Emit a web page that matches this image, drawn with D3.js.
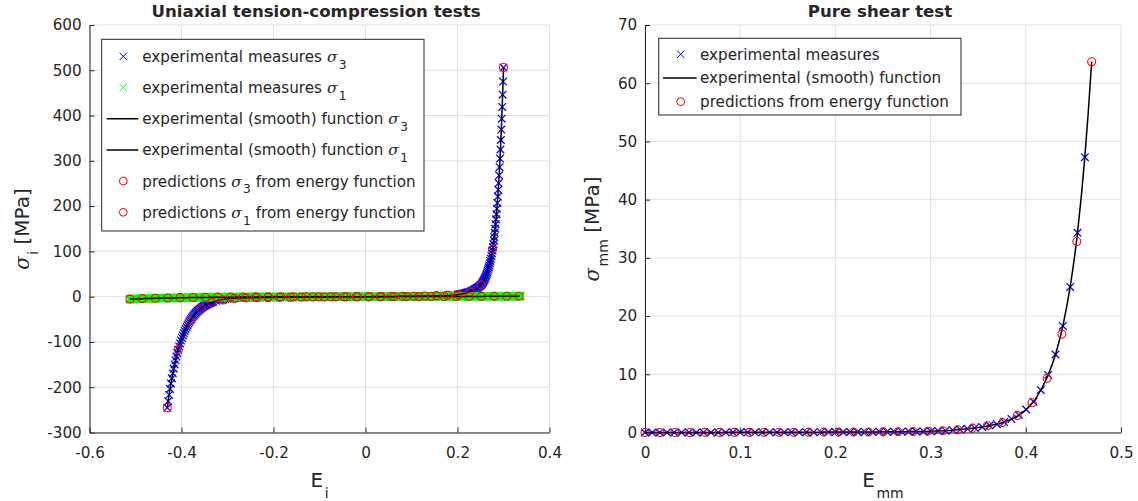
<!DOCTYPE html>
<html>
<head>
<meta charset="utf-8">
<script src="https://cdn.jsdelivr.net/npm/d3@7"></script>
<style>
  body { margin: 0; background: #fff; }
  svg text { font-family: "DejaVu Sans", sans-serif; fill: #262626; }
</style>
</head>
<body>
<div id="chart"></div>
<script>
// ---- uniaxial test: sigma_3 experimental (compression branch, middle, tension branch)
var uniE3comp = [-0.431,-0.429,-0.427,-0.425,-0.423,-0.421,-0.419,-0.417,-0.415,-0.413,-0.411,-0.409,-0.407,-0.405,-0.403,-0.401,-0.399,-0.397,-0.395,-0.393,-0.391,-0.389,-0.387,-0.385,-0.383,-0.381,-0.379,-0.377,-0.375,-0.373,-0.371,-0.369,-0.367,-0.365,-0.363,-0.361,-0.359,-0.357,-0.355,-0.353,-0.351,-0.349,-0.347,-0.345,-0.343,-0.341,-0.339,-0.337,-0.335,-0.333,-0.331];
var uniS3comp = [-245.5,-230.8,-216.9,-203.9,-191.7,-180.2,-169.4,-159.2,-149.6,-140.7,-132.2,-124.3,-116.8,-109.8,-103.3,-97.0,-91.2,-85.8,-80.6,-75.8,-71.2,-67.0,-62.9,-59.2,-55.6,-52.3,-49.1,-46.2,-43.4,-40.8,-38.4,-36.1,-33.9,-31.9,-30.0,-28.2,-26.5,-24.9,-23.4,-22.0,-20.7,-19.4,-18.3,-17.2,-16.1,-15.2,-14.3,-13.4,-12.6,-11.8,-11.1];
var uniE3mid = [-0.325,-0.320,-0.315,-0.310,-0.305,-0.300,-0.295,-0.290,-0.285,-0.280,-0.270,-0.260,-0.250,-0.240,-0.230,-0.220,-0.210,-0.200,-0.190,-0.180,-0.170,-0.160,-0.150,-0.140,-0.130,-0.120,-0.110,-0.100,-0.090,-0.080,-0.070,-0.060,-0.050,-0.040,-0.030,-0.020,-0.010,0,0.010,0.020,0.030,0.040,0.050,0.060,0.070,0.080,0.090,0.100,0.110,0.120,0.130,0.140,0.150,0.160,0.170,0.180,0.190];
var uniS3mid = [-9.3,-8.0,-6.9,-6.0,-5.2,-4.6,-4.1,-3.7,-3.4,-3.1,-2.8,-2.6,-2.4,-2.2,-2.05,-1.9,-1.75,-1.6,-1.5,-1.4,-1.3,-1.2,-1.1,-1.0,-0.9,-0.82,-0.74,-0.66,-0.58,-0.5,-0.43,-0.36,-0.29,-0.23,-0.17,-0.11,-0.05,0,0.08,0.16,0.25,0.34,0.43,0.53,0.63,0.74,0.86,0.99,1.13,1.28,1.45,1.64,1.86,2.1,2.4,2.8,3.4];
var uniE3tens = [0.2000,0.2021,0.2045,0.2062,0.2084,0.2104,0.2123,0.2141,0.2161,0.2181,0.2199,0.2220,0.2239,0.2260,0.2285,0.2303,0.2321,0.2337,0.2354,0.2372,0.2389,0.2406,0.2424,0.2438,0.2458,0.2476,0.2494,0.2510,0.2530,0.2542,0.2554,0.2564,0.2575,0.2586,0.2598,0.2610,0.2622,0.2633,0.2645,0.2656,0.2668,0.2679,0.2690,0.2702,0.2713,0.2724,0.2737,0.2748,0.2759,0.2770,0.2780,0.2790,0.2799,0.2809,0.2818,0.2828,0.2838,0.2847,0.2857,0.2866,0.2876,0.2886,0.2895,0.2905,0.2915,0.2924,0.2934,0.2943,0.2953,0.2962,0.2972,0.2981,0.2991,0.3000];
var uniS3tens = [4.4,4.7,5.1,5.4,5.8,6.2,6.6,7,7.5,8,8.5,9.1,9.7,10.4,11.4,12.2,13,13.8,14.7,15.7,16.7,17.8,19,20,21.5,23,24.5,26,28,30,32,34,36,38.5,41,44,47,50,53.5,57,61,65,69,74,79,84,90,96,102,109,116,124,132,141,150,160,171,182,194,207,221,236,251,268,286,305,325,346,369,393,419,446,475,506];

// ---- uniaxial test: sigma_1 experimental
var uniE1 = [-0.512,-0.504,-0.496,-0.488,-0.480,-0.472,-0.464,-0.456,-0.448,-0.440,
  -0.432,-0.424,-0.416,-0.408,-0.400,-0.392,-0.384,-0.376,-0.368,-0.360,
  -0.352,-0.344,-0.336,-0.328,-0.320,-0.312,-0.304,-0.296,-0.288,-0.280,
  -0.272,-0.264,-0.256,-0.248,-0.240,-0.232,-0.224,-0.216,-0.208,-0.200,
  -0.192,-0.184,-0.176,-0.168,-0.160,-0.152,-0.144,-0.136,-0.128,-0.120,
  -0.112,-0.104,-0.096,-0.088,-0.080,-0.072,-0.064,-0.056,-0.048,-0.040,
  -0.032,-0.024,-0.016,-0.008,0.000,0.008,0.016,0.024,0.032,0.040,
  0.048,0.056,0.064,0.072,0.080,0.088,0.096,0.104,0.112,0.120,
  0.128,0.136,0.144,0.152,0.160,0.168,0.176,0.184,0.192,0.200,
  0.208,0.216,0.224,0.232,0.240,0.248,0.256,0.264,0.272,0.280,
  0.288,0.296,0.304,0.312,0.320,0.328,0.336];
var uniS1 = [-5.4,-5.1,-4.8,-4.5,-4.3,-4.0,-3.8,-3.6,-3.4,-3.2,
  -3.0,-2.85,-2.7,-2.55,-2.4,-2.25,-2.1,-2.0,-1.9,-1.8,
  -1.7,-1.6,-1.5,-1.42,-1.34,-1.26,-1.18,-1.1,-1.03,-0.96,
  -0.9,-0.84,-0.78,-0.73,-0.68,-0.63,-0.58,-0.54,-0.5,-0.46,
  -0.42,-0.38,-0.35,-0.32,-0.29,-0.26,-0.23,-0.21,-0.19,-0.17,
  -0.15,-0.13,-0.11,-0.1,-0.08,-0.07,-0.06,-0.05,-0.04,-0.03,
  -0.02,-0.015,-0.01,-0.005,0,0.01,0.02,0.03,0.04,0.05,
  0.06,0.07,0.08,0.1,0.12,0.14,0.16,0.18,0.2,0.22,
  0.24,0.26,0.28,0.3,0.32,0.34,0.36,0.38,0.4,0.42,
  0.45,0.48,0.51,0.54,0.57,0.6,0.63,0.66,0.69,0.72,
  0.75,0.78,0.81,0.84,0.87,0.9,0.93];

// ---- uniaxial test: predictions from energy function
var predE3 = [-0.431,-0.407,-0.382,-0.358,-0.334,-0.309,-0.285,-0.260,-0.236,-0.212,-0.187,-0.163,-0.139,-0.114,-0.090,-0.065,-0.041,-0.017,0.008,0.032,0.056,0.081,0.105,0.129,0.154,0.178,0.202,0.227,0.251,0.276,0.300];
var predS3 = [-245.5,-117,-54.5,-26,-13.5,-7.5,-4.0,-2.6,-2.1,-1.8,-1.5,-1.2,-1.0,-0.8,-0.6,-0.45,-0.3,-0.1,0.05,0.2,0.4,0.6,1.0,1.5,2.2,3.1,4.6,10.6,26,105,506];
var predE1 = [-0.512,-0.485,-0.457,-0.430,-0.403,-0.375,-0.348,-0.321,-0.293,-0.266,-0.239,-0.211,-0.184,-0.157,-0.129,-0.102,-0.075,-0.047,-0.020,0.007,0.034,0.062,0.089,0.116,0.143,0.171,0.198,0.225,0.252,0.280,0.307,0.334];
var predS1 = [-5.4,-4.3,-3.5,-2.8,-2.2,-1.8,-1.4,-1.1,-0.9,-0.7,-0.55,-0.4,-0.3,-0.2,-0.15,-0.1,-0.06,-0.03,-0.01,0.01,0.04,0.08,0.12,0.17,0.23,0.3,0.38,0.47,0.57,0.68,0.8,0.93];

// ---- pure shear test
var shearE = [0,0.0077,0.0154,0.0231,0.0308,0.0385,0.0462,0.0539,0.0616,0.0693,0.077,0.0847,0.0924,0.1001,0.1078,0.1155,0.1232,0.1309,0.1386,0.1463,0.154,0.1617,0.1694,0.1771,0.1848,0.1925,0.2002,0.2079,0.2156,0.2233,0.231,0.2387,0.2464,0.2541,0.2618,0.2695,0.2772,0.2849,0.2926,0.3003,0.308,0.3157,0.3234,0.3311,0.3388,0.3465,0.3542,0.3619,0.3696,0.3773,0.385,0.3927,0.4004,0.4081,0.4158,0.4235,0.4312,0.4389,0.4466,0.4543,0.462];
var shearS = [0,0.002,0.004,0.006,0.008,0.01,0.012,0.014,0.016,0.018,
  0.02,0.022,0.025,0.027,0.03,0.033,0.036,0.039,0.042,0.045,
  0.048,0.052,0.056,0.06,0.064,0.068,0.073,0.078,0.083,0.089,
  0.095,0.102,0.11,0.118,0.13,0.14,0.155,0.17,0.18,0.21,
  0.26,0.32,0.4,0.5,0.63,0.78,0.95,1.2,1.4,1.8,
  2.3,3.0,3.95,5.3,7.3,9.9,13.4,18.3,25.0,34.3,47.3];
var shearFitTailE = [0.4655, 0.4692];
var shearFitTailS = [54.8, 63.7];
var shearPredE = [0,0.0156,0.0313,0.0469,0.0626,0.0782,0.0938,0.1095,0.1251,0.1408,0.1564,0.172,0.1877,0.2033,0.219,0.2346,0.2502,0.2659,0.2815,0.2972,0.3128,0.3284,0.3441,0.3597,0.3754,0.391,0.4066,0.4223,0.4379,0.4536,0.4692];
var shearPredS = [0,0.004,0.008,0.012,0.016,0.02,0.025,0.03,0.036,0.042,0.048,0.056,0.064,0.073,0.083,0.095,0.11,0.13,0.16,0.21,0.3,0.46,0.75,1.15,1.7,2.9,5.1,9.3,16.9,32.8,63.7];

// ---- ticks and labels
var leftXTicks = [-0.6,-0.4,-0.2,0,0.2,0.4];
var leftXLabels = ["-0.6","-0.4","-0.2","0","0.2","0.4"];
var leftYTicks = [-300,-200,-100,0,100,200,300,400,500,600];
var leftYLabels = ["-300","-200","-100","0","100","200","300","400","500","600"];
var rightXTicks = [0,0.1,0.2,0.3,0.4,0.5];
var rightXLabels = ["0","0.1","0.2","0.3","0.4","0.5"];
var rightYTicks = [0,10,20,30,40,50,60,70];
var rightYLabels = ["0","10","20","30","40","50","60","70"];

var leftLegend = ["experimental measures σ_3", "experimental measures σ_1",
  "experimental (smooth) function σ_3", "experimental (smooth) function σ_1",
  "predictions σ_3 from energy function", "predictions σ_1 from energy function"];
var leftLegendKind = ["xb", "xg", "line", "line", "o", "o"];
var rightLegend = ["experimental measures", "experimental (smooth) function", "predictions from energy function"];
var rightLegendKind = ["xb", "line", "o"];

var width = 1138, height = 501;
var fontSize = 15.2;
var axisColor = "#262626", gridColor = "#e1e1e1";

var svg = d3.select("#chart").append("svg")
  .attr("width", width)
  .attr("height", height);

var xL = d3.scaleLinear().domain([-0.6, 0.4]).range([89.5, 549.5]);
var yL = d3.scaleLinear().domain([-300, 600]).range([432.5, 25]);
var xR = d3.scaleLinear().domain([0, 0.5]).range([645, 1121]);
var yR = d3.scaleLinear().domain([0, 70]).range([432.5, 25]);

// text with italic sigma and subscripts
function richText(sel, str, subSize, drop) {
  var parts = str.split(/(σ|_[a-z0-9]+)/).filter(function (p) { return p !== ""; });
  var down = false;
  parts.forEach(function (p) {
    var t = sel.append("tspan");
    if (p[0] === "_") {
      t.text(p.slice(1)).attr("font-size", subSize).attr("dx", 1.5).attr("dy", drop);
      down = true;
      return;
    }
    t.text(p);
    if (p === "σ") t.style("font-family", "'DejaVu Serif', serif").style("font-style", "italic");
    if (down) { t.attr("dy", -drop); down = false; }
  });
}

function drawAxes(x, y, xTicks, xLabels, yTicks, yLabels) {
  var g = svg.append("g");
  // grid
  g.append("g").selectAll("line").data(xTicks).join("line")
    .attr("x1", d => x(d)).attr("x2", d => x(d))
    .attr("y1", y.range()[0]).attr("y2", y.range()[1])
    .attr("stroke", gridColor);
  g.append("g").selectAll("line").data(yTicks).join("line")
    .attr("x1", x.range()[0]).attr("x2", x.range()[1])
    .attr("y1", d => y(d)).attr("y2", d => y(d))
    .attr("stroke", gridColor);

  var xaxis = d3.axisBottom(x)
    .tickValues(xTicks)
    .tickFormat((d, i) => xLabels[i])
    .tickSizeInner(-5)
    .tickSizeOuter(0)
    .tickPadding(14.4);
  g.append("g")
    .attr("transform", "translate(0," + y.range()[0] + ")")
    .call(xaxis)
    .attr("font-family", null).attr("font-size", fontSize);

  var yaxis = d3.axisLeft(y)
    .tickValues(yTicks)
    .tickFormat((d, i) => yLabels[i])
    .tickSizeInner(-5)
    .tickSizeOuter(0)
    .tickPadding(7.8);
  g.append("g")
    .attr("transform", "translate(" + x.range()[0] + ",0)")
    .call(yaxis)
    .attr("font-family", null).attr("font-size", fontSize);

  g.selectAll(".domain, .tick line").attr("stroke", axisColor);
  g.selectAll(".tick text").attr("fill", axisColor);
}

function crossPath(px, py, s) {
  return "M" + (px - s) + "," + (py - s) + "L" + (px + s) + "," + (py + s) +
    "M" + (px - s) + "," + (py + s) + "L" + (px + s) + "," + (py - s);
}

function drawCrosses(xs, ys, x, y, color, sw, s) {
  svg.append("g").selectAll("path").data(xs).join("path")
    .attr("d", (d, i) => crossPath(x(d), y(ys[i]), s))
    .attr("stroke", color)
    .attr("stroke-width", sw)
    .attr("fill", "none");
}

function drawCircles(xs, ys, x, y) {
  svg.append("g").selectAll("circle").data(xs).join("circle")
    .attr("cx", d => x(d))
    .attr("cy", (d, i) => y(ys[i]))
    .attr("r", 4)
    .attr("fill", "none")
    .attr("stroke", "#ff0000")
    .attr("stroke-width", 1.1);
}

function drawLine(xs, ys, x, y) {
  var pts = xs.map((d, i) => [d, ys[i]]);
  svg.append("path")
    .datum(pts)
    .attr("fill", "none")
    .attr("stroke", "#000")
    .attr("stroke-width", 1.5)
    .attr("d", d3.line().x(d => x(d[0])).y(d => y(d[1])).curve(d3.curveMonotoneX));
}

function drawLegend(x0, y0, w, h, rowY, labels, kinds, markX, lineX0, lineX1, textX) {
  var g = svg.append("g");
  g.append("rect")
    .attr("x", x0).attr("y", y0).attr("width", w).attr("height", h)
    .attr("fill", "#fff").attr("stroke", axisColor).attr("stroke-width", 1);
  labels.forEach(function (lab, i) {
    var cy = rowY[i];
    var k = kinds[i];
    if (k === "xb" || k === "xg") {
      g.append("path").attr("d", crossPath(markX, cy, 3.7))
        .attr("stroke", k === "xb" ? "#0000ff" : "#00ff00").attr("fill", "none");
    } else if (k === "line") {
      g.append("line").attr("x1", lineX0).attr("x2", lineX1).attr("y1", cy).attr("y2", cy)
        .attr("stroke", "#000").attr("stroke-width", 1.5);
    } else {
      g.append("circle").attr("cx", markX).attr("cy", cy).attr("r", 3.9)
        .attr("fill", "none").attr("stroke", "#ff0000");
    }
    var t = g.append("text").attr("x", textX).attr("y", cy + 5.4)
      .attr("font-size", fontSize).attr("fill", "#000");
    richText(t, lab, 12.2, 6.8);
  });
}

// ---------------- left panel
drawAxes(xL, yL, leftXTicks, leftXLabels, leftYTicks, leftYLabels);

var uniE3 = uniE3comp.concat(uniE3mid, uniE3tens);
var uniS3 = uniS3comp.concat(uniS3mid, uniS3tens);

drawCrosses(uniE3, uniS3, xL, yL, "#0000ff", 1.25, 3.8);
drawCrosses(uniE1, uniS1, xL, yL, "#00ff00", 2.8, 3.9);
drawLine(uniE3, uniS3, xL, yL);
drawLine(uniE1, uniS1, xL, yL);
drawCircles(predE3, predS3, xL, yL);
drawCircles(predE1, predS1, xL, yL);

drawLegend(101.7, 39.3, 322.3, 191.7, [56.3, 87.5, 118.7, 149.9, 181.1, 212.3],
  leftLegend, leftLegendKind, 123.3, 106.7, 138.3, 142.3);

svg.append("text")
  .attr("x", 316).attr("y", 17)
  .attr("text-anchor", "middle")
  .attr("font-size", 16.6).attr("font-weight", "bold").attr("fill", "#000")
  .text("Uniaxial tension-compression tests");

var xlabL = svg.append("text").attr("x", 319.5).attr("y", 486.7)
  .attr("text-anchor", "middle").attr("font-size", 20);
richText(xlabL, "E_i", 14, 11);

var ylabL = svg.append("text").attr("transform", "translate(28.5,229) rotate(-90)")
  .attr("text-anchor", "middle").attr("font-size", 20);
richText(ylabL, "σ_i [MPa]", 14, 9);

// ---------------- right panel
drawAxes(xR, yR, rightXTicks, rightXLabels, rightYTicks, rightYLabels);

drawCrosses(shearE, shearS, xR, yR, "#0000ff", 1.25, 3.8);
drawLine(shearE.concat(shearFitTailE), shearS.concat(shearFitTailS), xR, yR);
drawCircles(shearPredE, shearPredS, xR, yR);

drawLegend(658.7, 38.3, 302.3, 76.7, [54.3, 78, 101.7],
  rightLegend, rightLegendKind, 680.7, 663, 696.7, 700);

svg.append("text")
  .attr("x", 880).attr("y", 17)
  .attr("text-anchor", "middle")
  .attr("font-size", 16.6).attr("font-weight", "bold").attr("fill", "#000")
  .text("Pure shear test");

var xlabR = svg.append("text").attr("x", 883).attr("y", 486.7)
  .attr("text-anchor", "middle").attr("font-size", 20);
richText(xlabR, "E_mm", 14, 11);

var ylabR = svg.append("text").attr("transform", "translate(599,229) rotate(-90)")
  .attr("text-anchor", "middle").attr("font-size", 20);
richText(ylabR, "σ_mm [MPa]", 14, 9);
</script>
</body>
</html>
